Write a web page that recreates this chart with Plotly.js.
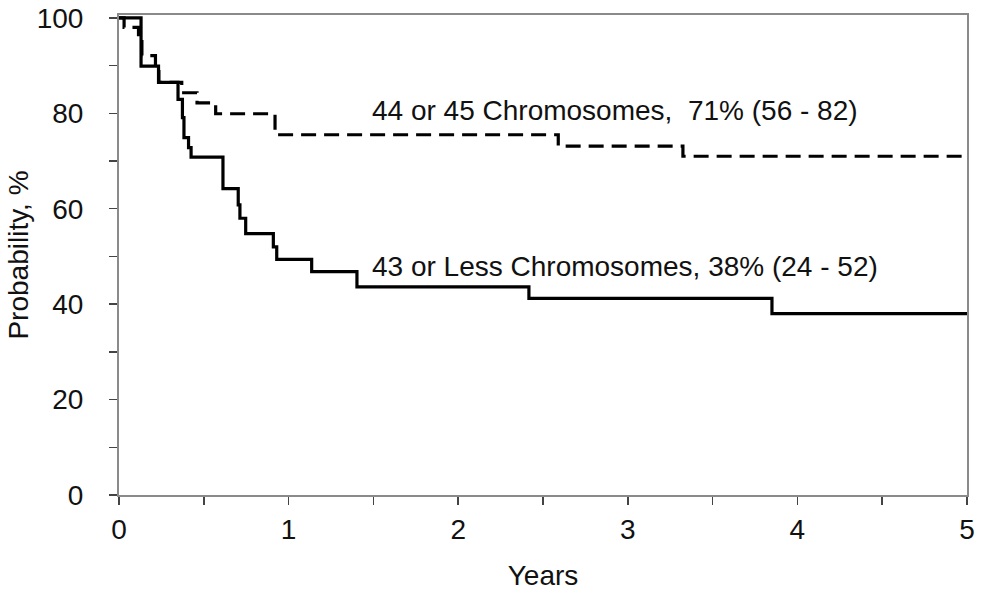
<!DOCTYPE html>
<html>
<head>
<meta charset="utf-8">
<script src="https://cdn.plot.ly/plotly-3.0.1.min.js"></script>
<style>html,body{margin:0;padding:0;background:#fff;}#chart{width:982px;height:595px;}</style>
</head>
<body>
<div id="chart"></div>
<script>
// Years (x) and survival probability % (y) for each group
var lowYears = [0, 0.13, 0.233, 0.348, 0.374, 0.383, 0.41, 0.425, 0.613, 0.703, 0.713, 0.747, 0.91, 0.93, 1.136, 1.403, 2.417, 3.85, 5.0];
var lowProb  = [100, 89.9, 86.5, 82.9, 79.1, 74.9, 72.8, 70.8, 64.2, 60.8, 58.0, 54.8, 52.0, 49.4, 46.8, 43.6, 41.2, 38.0, 38.0];

var highYears = [0, 0.03, 0.115, 0.135, 0.215, 0.235, 0.37, 0.46, 0.57, 0.92, 2.59, 3.325, 5.0];
var highProb  = [100, 98.0, 95.0, 92.1, 89.5, 86.5, 84.3, 82.2, 79.9, 75.5, 73.1, 71.0, 71.0];

var labelHigh = "44 or 45 Chromosomes,\u00a0 71% (56 - 82)";
var labelLow  = "43 or Less Chromosomes, 38% (24 - 52)";
var xTitle = "Years";
var yTitle = "Probability, %";

var FONT = "Liberation Sans, Arial, Helvetica, sans-serif";

var traces = [
  {x: highYears, y: highProb, type: "scatter", mode: "lines",
   line: {shape: "hv", color: "#000", width: 3.2, dash: "15px,8px"}, hoverinfo: "skip"},
  {x: lowYears, y: lowProb, type: "scatter", mode: "lines",
   line: {shape: "hv", color: "#000", width: 3.2}, hoverinfo: "skip"}
];

var layout = {
  width: 982, height: 595,
  margin: {l: 119, r: 15, t: 15, b: 100},
  paper_bgcolor: "#fff", plot_bgcolor: "#fff",
  showlegend: false,
  font: {family: FONT, size: 28, color: "#111"},
  xaxis: {
    range: [0, 5], tickvals: [0, 1, 2, 3, 4, 5], ticktext: ["0","1","2","3","4","5"],
    showgrid: false, zeroline: false,
    showline: true, linecolor: "#8a8a8a", linewidth: 2, mirror: true,
    ticks: "outside", ticklen: 8, tickwidth: 1.5, tickcolor: "#444",
    minor: {tickvals: [0.5, 1.5, 2.5, 3.5, 4.5], ticks: "outside", ticklen: 8, tickwidth: 1.5, tickcolor: "#444"},
    tickfont: {family: FONT, size: 28, color: "#111"},
    title: {text: xTitle, font: {family: FONT, size: 28, color: "#111"}, standoff: 22}
  },
  yaxis: {
    range: [0, 100.6], tickvals: [0, 20, 40, 60, 80, 100], ticktext: ["0","20","40","60","80","100"],
    showgrid: false, zeroline: false,
    showline: true, linecolor: "#8a8a8a", linewidth: 2, mirror: true,
    ticks: "outside", ticklen: 8, tickwidth: 1.5, tickcolor: "#444",
    ticklabelstandoff: 20,
    minor: {tickvals: [10, 30, 50, 70, 90], ticks: "outside", ticklen: 8, tickwidth: 1.5, tickcolor: "#444"},
    tickfont: {family: FONT, size: 28, color: "#111"},
    title: {text: yTitle, font: {family: FONT, size: 28, color: "#111"}, standoff: 0}
  },
  annotations: [
    {x: 1.48, y: 80.5, xref: "x", yref: "y", text: labelHigh, showarrow: false,
     xanchor: "left", yanchor: "middle", font: {family: FONT, size: 28, color: "#111"}},
    {x: 1.48, y: 47.9, xref: "x", yref: "y", text: labelLow, showarrow: false,
     xanchor: "left", yanchor: "middle", font: {family: FONT, size: 28, color: "#111"}}
  ]
};

Plotly.newPlot("chart", traces, layout, {staticPlot: true, displayModeBar: false});
</script>
</body>
</html>
